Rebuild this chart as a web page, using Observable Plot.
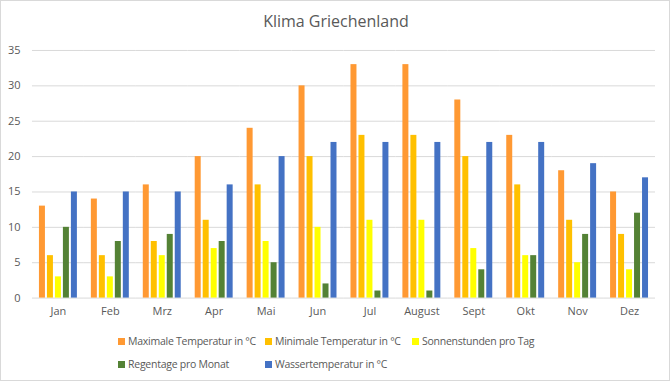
<!DOCTYPE html>
<html><head><meta charset="utf-8">
<script src="https://cdn.jsdelivr.net/npm/d3@7"></script>
<script src="https://cdn.jsdelivr.net/npm/@observablehq/plot@0.6"></script>
<style>
html,body{margin:0;padding:0;background:#fff;}
#wrap{position:relative;width:670px;height:381px;box-sizing:border-box;border:1px solid #d9d9d9;overflow:hidden;font-family:"Open Sans",sans-serif;color:#595959;}
#title{position:absolute;top:9px;left:0;width:670px;text-align:center;font-size:16px;color:#595959;}
#plot{position:absolute;top:29px;left:-1px;}
#legend{position:absolute;left:117px;top:331px;display:grid;grid-template-columns:147px 147px 160px;row-gap:5px;font-size:10.5px;letter-spacing:-0.25px;color:#595959;}
.item{display:flex;align-items:center;white-space:nowrap;height:18px;}
.sw{width:7px;height:7px;margin-right:3px;flex:none;}
</style></head>
<body><div id="wrap"><div id="title">Klima Griechenland</div><div id="plot"></div><div id="legend"></div></div>
<script>
const months = ["Jan","Feb","Mrz","Apr","Mai","Jun","Jul","August","Sept","Okt","Nov","Dez"];
const seriesNames = ["Maximale Temperatur in °C","Minimale Temperatur in °C","Sonnenstunden pro Tag","Regentage pro Monat","Wassertemperatur in °C"];
const maxTemp = [13,14,16,20,24,30,33,33,28,23,18,15];
const minTemp = [6,6,8,11,16,20,23,23,20,16,11,9];
const sunHours = [3,3,6,7,8,10,11,11,7,6,5,4];
const rainDays = [10,8,9,8,5,2,1,1,4,6,9,12];
const waterTemp = [15,15,15,16,20,22,22,22,22,22,19,17];
const colors = ["#FF9933","#FFC000","#FFFF00","#548235","#4472C4"];
const yTicks = [0,5,10,15,20,25,30,35];

const seriesValues = [maxTemp,minTemp,sunHours,rainDays,waterTemp];
const data = months.flatMap((m,i)=>seriesNames.map((s,j)=>({month:m,series:s,value:seriesValues[j][i]})));

const chart = Plot.plot({
  width:670, height:300,
  marginTop:20, marginBottom:32, marginLeft:32, marginRight:14,
  style:{fontFamily:"Open Sans, sans-serif",fontSize:"11px",color:"#595959",background:"transparent",overflow:"visible"},
  fx:{domain:months,padding:0,label:null,axis:"bottom",tickSize:0,tickPadding:9},
  x:{domain:seriesNames,paddingInner:0.25,paddingOuter:0.875,axis:null},
  y:{domain:[0,35],ticks:yTicks,tickSize:0,tickPadding:12,label:null},
  color:{domain:seriesNames,range:colors},
  marks:[
    Plot.ruleY(yTicks,{stroke:"#d9d9d9",strokeOpacity:1}),
    Plot.barY(data,{fx:"month",x:"series",y:"value",fill:"series"})
  ]
});
document.getElementById("plot").appendChild(chart);

const leg = document.getElementById("legend");
seriesNames.forEach((s,i)=>{
  const it=document.createElement("div");it.className="item";
  const sw=document.createElement("span");sw.className="sw";sw.style.background=colors[i];
  const t=document.createElement("span");t.textContent=s;
  it.appendChild(sw);it.appendChild(t);leg.appendChild(it);
});
</script></body></html>
